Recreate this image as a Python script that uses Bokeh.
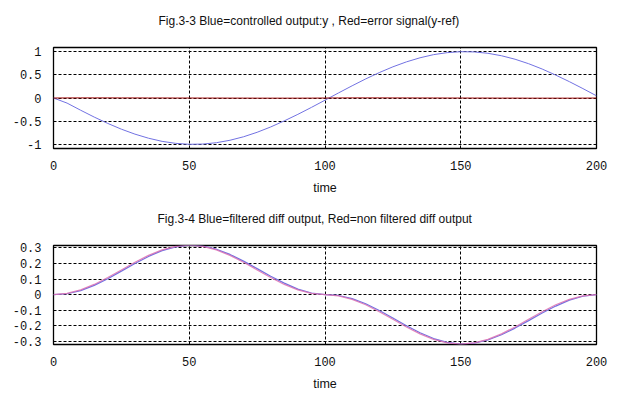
from bokeh.plotting import figure
from bokeh.layouts import column
from bokeh.models import FixedTicker, Title
from bokeh.embed import file_html
from bokeh.resources import INLINE

# ---- data ----
time = [0, 5, 10, 15, 20, 25, 30, 35, 40, 45, 50, 55, 60, 65, 70, 75, 80, 85, 90, 95, 100,
        105, 110, 115, 120, 125, 130, 135, 140, 145, 150, 155, 160, 165, 170, 175, 180, 185, 190, 195, 200]

y_out = [0.0, -0.110, -0.264, -0.412, -0.549, -0.673, -0.780, -0.868, -0.936, -0.979, -0.999,
         -0.994, -0.965, -0.912, -0.837, -0.740, -0.625, -0.494, -0.353, -0.203, -0.047,
         0.110, 0.264, 0.412, 0.549, 0.673, 0.780, 0.868, 0.936, 0.979, 0.999,
         0.994, 0.965, 0.912, 0.837, 0.740, 0.625, 0.494, 0.353, 0.203, 0.047]

err = [0.0, 0.002, 0.003, 0.003, 0.003, 0.002, 0.002, 0.001, 0.001, 0.0, 0.0,
       -0.001, -0.001, -0.002, -0.002, -0.003, -0.003, -0.003, -0.003, -0.002, 0.0,
       0.002, 0.003, 0.003, 0.003, 0.002, 0.002, 0.001, 0.001, 0.0, 0.0,
       -0.001, -0.001, -0.002, -0.002, -0.003, -0.003, -0.003, -0.003, -0.002, 0.0]

diff_filt = [0.0, 0.0055, 0.0258, 0.0592, 0.1023, 0.1510, 0.2007, 0.2458, 0.2828, 0.3075, 0.3178,
             0.3126, 0.2922, 0.2586, 0.2154, 0.1673, 0.1184, 0.0738, 0.0352, 0.0104, 0.0002,
             -0.0055, -0.0258, -0.0592, -0.1023, -0.1510, -0.2007, -0.2458, -0.2828, -0.3075, -0.3178,
             -0.3126, -0.2922, -0.2586, -0.2154, -0.1673, -0.1184, -0.0738, -0.0352, -0.0104, -0.0002]

diff_raw = [0.0, 0.0078, 0.0304, 0.0656, 0.1098, 0.1590, 0.2083, 0.2526, 0.2877, 0.3102, 0.3180,
            0.3102, 0.2877, 0.2526, 0.2083, 0.1590, 0.1098, 0.0656, 0.0304, 0.0078, 0.0,
            -0.0078, -0.0304, -0.0656, -0.1098, -0.1590, -0.2083, -0.2526, -0.2877, -0.3102, -0.3180,
            -0.3102, -0.2877, -0.2526, -0.2083, -0.1590, -0.1098, -0.0656, -0.0304, -0.0078, 0.0]

x_ticks = [0, 50, 100, 150, 200]
x_labels = ["0", "50", "100", "150", "200"]
y1_ticks = [-1, -0.5, 0, 0.5, 1]
y1_labels = ["-1", "-0.5", "0", "0.5", "1"]
y2_ticks = [-0.3, -0.2, -0.1, 0, 0.1, 0.2, 0.3]
y2_labels = ["-0.3", "-0.2", "-0.1", "0", "0.1", "0.2", "0.3"]

title1 = "Fig.3-3  Blue=controlled output:y , Red=error signal(y-ref)"
title2 = "Fig.3-4 Blue=filtered diff output, Red=non filtered diff output"
xlabel = "time"

BLUE = "#7272e2"
RED1 = "#a01010"
RED2 = "#dc70b0"


def make_fig(title, yr, yticks, ylabels, fh, top, bottom, toffset, gap):
    p = figure(output_backend="svg", toolbar_location=None,
               frame_width=543, frame_height=fh,
               min_border_left=53, min_border_right=24,
               min_border_top=top, min_border_bottom=bottom,
               x_range=(0, 200), y_range=yr, title=title)
    p.title.align = "left"
    p.title.offset = toffset
    p.title.text_font = "Liberation Sans"
    p.title.text_font_size = "12px"
    p.title.text_font_style = "normal"
    p.title.text_color = "#111111"
    p.title.standoff = 0
    # empty spacer between title and frame
    p.add_layout(Title(text=" ", text_font_size="1px", standoff=gap), "above")
    p.background_fill_color = "white"
    p.border_fill_color = "white"
    p.outline_line_color = "black"
    p.outline_line_width = 1.3
    p.outline_line_alpha = 1.0

    p.xaxis.ticker = FixedTicker(ticks=x_ticks)
    p.xaxis.major_label_overrides = dict(zip(x_ticks, x_labels))
    p.yaxis.ticker = FixedTicker(ticks=yticks)
    p.yaxis.major_label_overrides = dict(zip(yticks, ylabels))
    for ax in (p.xaxis, p.yaxis):
        ax.axis_line_color = None
        ax.major_tick_line_color = None
        ax.minor_tick_line_color = None
        ax.major_label_text_font = "Liberation Mono"
        ax.major_label_text_font_size = "12px"
        ax.major_label_text_color = "#111111"
    p.xaxis.major_label_standoff = 6
    p.yaxis.major_label_standoff = 6
    p.xaxis.axis_label = xlabel
    p.xaxis.axis_label_text_font = "Liberation Sans"
    p.xaxis.axis_label_text_font_size = "12.5px"
    p.xaxis.axis_label_text_font_style = "normal"
    p.xaxis.axis_label_text_color = "#111111"
    p.xaxis.axis_label_standoff = 8

    for g in (p.xgrid, p.ygrid):
        g.grid_line_color = "black"
        g.grid_line_dash = "3 2"
        g.grid_line_width = 1
        g.grid_line_alpha = 1.0
    return p


p1 = make_fig(title1, (-1.09, 1.09), y1_ticks, y1_labels, 101, 47, 52, 105, 17)
p1.line(time, y_out, line_color=BLUE, line_width=1)
p1.line(time, err, line_color=RED1, line_width=1)

p2 = make_fig(title2, (-0.321, 0.316), y2_ticks, y2_labels, 99, 45, 48, 104, 17)
p2.line(time, diff_filt, line_color=BLUE, line_width=1.2)
p2.line(time, diff_raw, line_color=RED2, line_width=1.2, line_alpha=0.85)

layout = column(p1, p2, spacing=0)
open("out.html", "w").write(file_html(layout, INLINE))
